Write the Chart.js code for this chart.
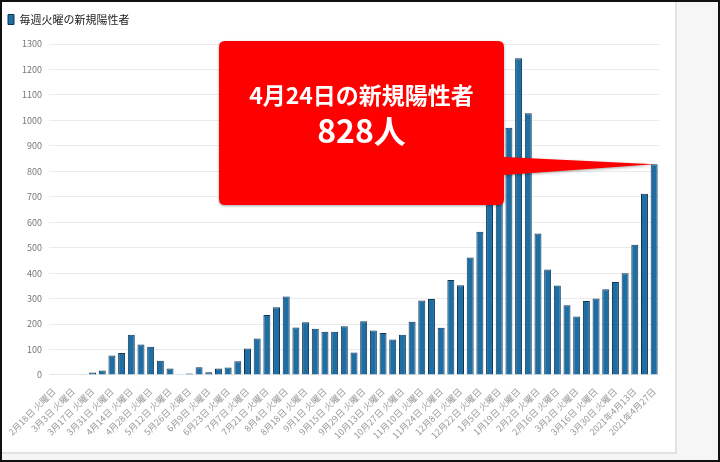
<!DOCTYPE html>
<html lang="ja">
<head>
    <meta charset="UTF-8">
    <title>毎週火曜の新規陽性者</title>
    <script src="https://cdn.jsdelivr.net/npm/chart.js"></script>
    <style>
        html, body { margin: 0; padding: 0; }
        body { width: 716px; height: 458px; border: 2px solid #111; background: #f6f6f6; position: relative; overflow: hidden; }
        .panel { position: absolute; left: 0; top: 0; width: 673px; height: 450px; background: #fff; border-right: 2px solid #e2e2e2; border-bottom: 2px solid #e2e2e2; }
        #chart { position: absolute; left: 0; top: 0; }
    </style>
</head>
<body>
    <div class="panel">
        <canvas id="chart" width="670" height="448"></canvas>
    </div>

    <script>
        const dates = [
            '2月18日 火曜日', '2月25日 火曜日', '3月3日 火曜日', '3月10日 火曜日', '3月17日 火曜日', '3月24日 火曜日',
            '3月31日 火曜日', '4月7日 火曜日', '4月14日 火曜日', '4月21日 火曜日', '4月28日 火曜日', '5月5日 火曜日',
            '5月12日 火曜日', '5月19日 火曜日', '5月26日 火曜日', '6月2日 火曜日', '6月9日 火曜日', '6月16日 火曜日',
            '6月23日 火曜日', '6月30日 火曜日', '7月7日 火曜日', '7月14日 火曜日', '7月21日 火曜日', '7月28日 火曜日',
            '8月4日 火曜日', '8月11日 火曜日', '8月18日 火曜日', '8月25日 火曜日', '9月1日 火曜日', '9月8日 火曜日',
            '9月15日 火曜日', '9月22日 火曜日', '9月29日 火曜日', '10月6日 火曜日', '10月13日 火曜日', '10月20日 火曜日',
            '10月27日 火曜日', '11月3日 火曜日', '11月10日 火曜日', '11月17日 火曜日', '11月24日 火曜日', '12月1日 火曜日',
            '12月8日 火曜日', '12月15日 火曜日', '12月22日 火曜日', '12月29日 火曜日', '1月5日 火曜日', '1月12日 火曜日',
            '1月19日 火曜日', '1月26日 火曜日', '2月2日 火曜日', '2月9日 火曜日', '2月16日 火曜日', '2月23日 火曜日',
            '3月2日 火曜日', '3月9日 火曜日', '3月16日 火曜日', '3月23日 火曜日', '3月30日 火曜日', '2021年4月6日',
            '2021年4月13日', '2021年4月20日', '2021年4月27日'
        ];
        const newCases = [
            3, 0, 0, 3, 10, 18, 77, 86, 158, 120,
            111, 56, 25, 3, 6, 30, 11, 25, 29, 54,
            104, 143, 236, 266, 308, 187, 207, 182, 170, 170,
            191, 88, 211, 175, 165, 139, 158, 209, 293, 298,
            186, 373, 352, 461, 563, 690, 800, 971, 1244, 1028,
            556, 414, 351, 274, 230, 291, 300, 337, 365, 400,
            512, 712, 828
        ];
        const seriesName = '毎週火曜の新規陽性者';
        const calloutLines = ['4月24日の新規陽性者', '828人'];

        Chart.defaults.font.family = "'Noto Sans CJK JP', 'Noto Sans', sans-serif";

        // push the plot a bit further below the legend
        const legendGap = {
            id: 'legendGap',
            beforeInit(chart) {
                const fit = chart.legend.fit;
                chart.legend.fit = function () {
                    fit.call(this);
                    this.height += 9;
                };
            }
        };

        // red speech box pointing at the latest bar
        const calloutPlugin = {
            id: 'callout',
            afterDatasetsDraw(chart) {
                const ctx = chart.ctx;
                const last = chart.getDatasetMeta(0).data[newCases.length - 1];
                const bx = 217, by = 39, bw = 285, bh = 164, r = 6;
                ctx.save();
                ctx.fillStyle = '#ff0000';
                ctx.shadowColor = 'rgba(0,0,0,0.35)';
                ctx.shadowBlur = 3;
                ctx.shadowOffsetY = 1;
                ctx.beginPath();
                ctx.moveTo(bx + r, by);
                ctx.lineTo(bx + bw - r, by);
                ctx.quadraticCurveTo(bx + bw, by, bx + bw, by + r);
                ctx.lineTo(bx + bw, by + 116);
                ctx.lineTo(last.x, last.y);
                ctx.lineTo(bx + bw, by + 134);
                ctx.lineTo(bx + bw, by + bh - r);
                ctx.quadraticCurveTo(bx + bw, by + bh, bx + bw - r, by + bh);
                ctx.lineTo(bx + r, by + bh);
                ctx.quadraticCurveTo(bx, by + bh, bx, by + bh - r);
                ctx.lineTo(bx, by + r);
                ctx.quadraticCurveTo(bx, by, bx + r, by);
                ctx.closePath();
                ctx.fill();
                ctx.shadowColor = 'transparent';
                ctx.fillStyle = '#fff';
                ctx.textAlign = 'center';
                ctx.textBaseline = 'middle';
                ctx.font = "bold 23px 'Noto Sans CJK JP', sans-serif";
                ctx.fillText(calloutLines[0], bx + bw / 2, by + 54);
                ctx.font = "bold 32px 'Noto Sans CJK JP', sans-serif";
                ctx.fillText(calloutLines[1], bx + bw / 2, by + 90);
                ctx.restore();
            }
        };

        new Chart(document.getElementById('chart').getContext('2d'), {
            type: 'bar',
            data: {
                labels: dates,
                datasets: [{
                    label: seriesName,
                    data: newCases,
                    backgroundColor: '#1f6ea3',
                    borderColor: '#0f3556',
                    borderWidth: 1,
                    barPercentage: 0.8,
                    categoryPercentage: 0.9
                }]
            },
            options: {
                responsive: false,
                animation: false,
                layout: { padding: { left: 0, right: 13, top: 6, bottom: 6 } },
                plugins: {
                    legend: {
                        align: 'start',
                        labels: {
                            boxWidth: 6,
                            boxHeight: 10,
                            padding: 6,
                            color: '#222',
                            font: { size: 11 }
                        }
                    },
                    tooltip: { enabled: false }
                },
                scales: {
                    x: {
                        grid: { display: false },
                        border: { display: false },
                        ticks: {
                            autoSkip: false,
                            maxRotation: 45,
                            minRotation: 45,
                            color: '#999',
                            font: { size: 9 },
                            callback: (v, i) => i % 2 === 0 ? dates[i] : ''
                        }
                    },
                    y: {
                        min: 0,
                        max: 1300,
                        afterFit: scale => { scale.width = 47; },
                        grid: { color: '#ebebeb', drawTicks: false },
                        border: { display: false },
                        ticks: {
                            stepSize: 100,
                            color: '#777',
                            padding: 7,
                            font: { size: 9 },
                            callback: v => String(v)
                        }
                    }
                }
            },
            plugins: [legendGap, calloutPlugin]
        });
    </script>
</body>
</html>
